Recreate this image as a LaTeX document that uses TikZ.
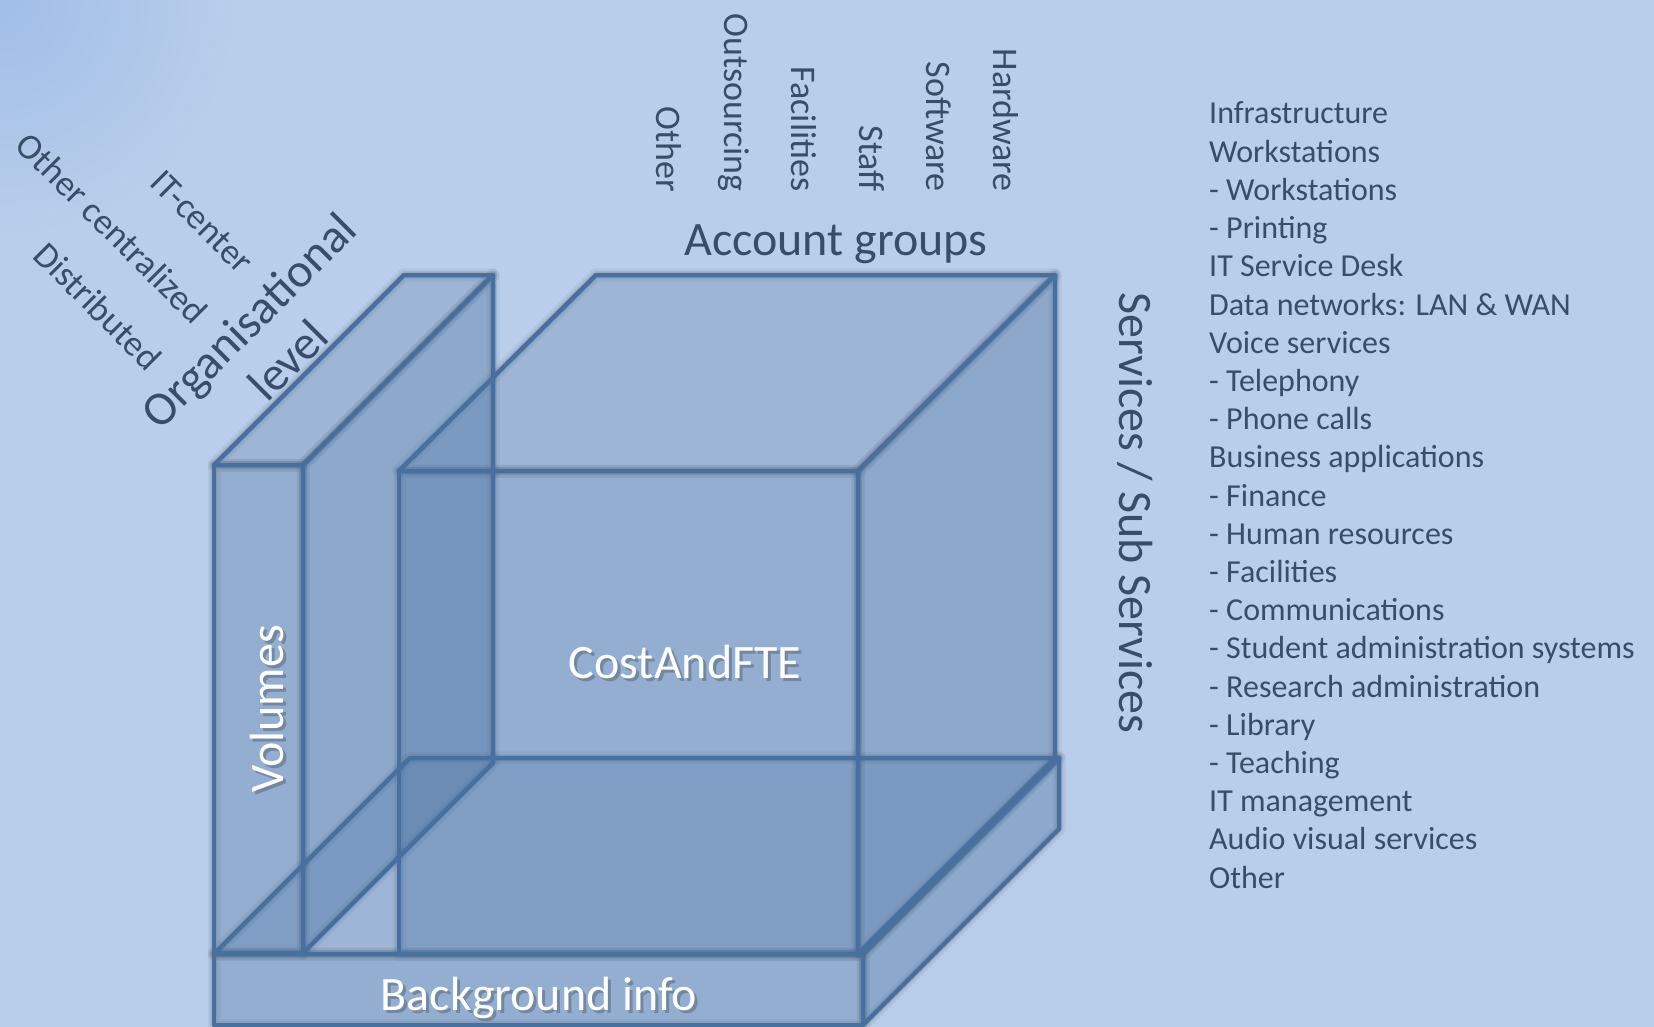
\documentclass[tikz,border=0pt]{standalone}
\usepackage{fontspec}
\setmainfont{Carlito}
\definecolor{bgblue}{RGB}{185,206,234}
\definecolor{edgeblue}{RGB}{72,112,158}
\definecolor{faceblue}{RGB}{74,114,160}
\definecolor{txtdark}{RGB}{56,78,104}
\definecolor{cornerblue}{RGB}{160,190,232}
\tikzset{
  frontface/.style={fill=faceblue, fill opacity=0.34},
  topface/.style={fill=faceblue, fill opacity=0.25},
  sideface/.style={fill=faceblue, fill opacity=0.40},
  edgeline/.style={draw=edgeblue, line width=4.5pt, line join=round},
  shadowwide/.style={draw=black, draw opacity=0.05, line width=13pt, line join=round, xshift=3pt, yshift=-4pt},
  shadownarrow/.style={draw=black, draw opacity=0.07, line width=8pt, line join=round, xshift=3pt, yshift=-4pt},
  bigtxt/.style={font=\fontsize{48}{56}\selectfont},
  midtxt/.style={font=\fontsize{36}{42}\selectfont},
  smalltxt/.style={font=\fontsize{32}{38}\selectfont},
  darktxt/.style={text=txtdark, inner sep=0pt},
  lighttxt/.style={text=white, inner sep=0pt},
  shadowtxt/.style={text=black, text opacity=0.22, inner sep=0pt},
}
\newcommand\allboxedges[1]{%
  \draw[#1] (bFTL) -- (bFTR) -- (bFBR) -- (bFBL) -- cycle;
  \draw[#1] (bFTL) -- (bFTR) -- (bBTR) -- (bBTL) -- cycle;
  \draw[#1] (bFTR) -- (bBTR) -- (bBBR) -- (bFBR) -- cycle;
  \draw[#1] (cFTL) -- (cFTR) -- (cFBR) -- (cFBL) -- cycle;
  \draw[#1] (cFTL) -- (cFTR) -- (cBTR) -- (cBTL) -- cycle;
  \draw[#1] (cFTR) -- (cBTR) -- (cBBR) -- (cFBR) -- cycle;
  \draw[#1] (lsFTL) -- (lsFTR) -- (lsFBR) -- (lsFBL) -- cycle;
  \draw[#1] (lsFTL) -- (lsFTR) -- (lsBTR) -- (lsBTL) -- cycle;
  \draw[#1] (lsFTR) -- (lsBTR) -- (lsBBR) -- (lsFBR) -- cycle;
}
\begin{document}
\begin{tikzpicture}[x=1pt,y=-1pt]
\useasboundingbox (0,0) rectangle (1654,1027);
\clip (0,0) rectangle (1654,1027);
\fill[bgblue] (0,0) rectangle (1654,1027);
\shade[inner color=cornerblue, outer color=bgblue] (0,0) circle (240);

% left slab
\coordinate (lsFTL) at (214,465);
\coordinate (lsFTR) at (303,465);
\coordinate (lsFBR) at (303,953);
\coordinate (lsFBL) at (214,953);
\coordinate (lsBTL) at (404,275);
\coordinate (lsBTR) at (493,275);
\coordinate (lsBBR) at (493,763);
% cube
\coordinate (cFTL) at (399,471);
\coordinate (cFTR) at (858,471);
\coordinate (cFBR) at (858,954);
\coordinate (cFBL) at (399,954);
\coordinate (cBTL) at (596,275);
\coordinate (cBTR) at (1055,275);
\coordinate (cBBR) at (1055,758);
% background slab
\coordinate (bFTL) at (214,954);
\coordinate (bFTR) at (863,954);
\coordinate (bFBR) at (863,1025);
\coordinate (bFBL) at (214,1025);
\coordinate (bBTL) at (410,758);
\coordinate (bBTR) at (1059,758);
\coordinate (bBBR) at (1059,829);

% soft shadows
\allboxedges{shadowwide}
\allboxedges{shadownarrow}

% fills
\fill[frontface] (bFTL) -- (bFTR) -- (bFBR) -- (bFBL) -- cycle;
\fill[topface] (bFTL) -- (bFTR) -- (bBTR) -- (bBTL) -- cycle;
\fill[sideface] (bFTR) -- (bBTR) -- (bBBR) -- (bFBR) -- cycle;

\fill[frontface] (cFTL) -- (cFTR) -- (cFBR) -- (cFBL) -- cycle;
\fill[topface] (cFTL) -- (cFTR) -- (cBTR) -- (cBTL) -- cycle;
\fill[sideface] (cFTR) -- (cBTR) -- (cBBR) -- (cFBR) -- cycle;

\fill[frontface] (lsFTL) -- (lsFTR) -- (lsFBR) -- (lsFBL) -- cycle;
\fill[topface] (lsFTL) -- (lsFTR) -- (lsBTR) -- (lsBTL) -- cycle;
\fill[sideface] (lsFTR) -- (lsBTR) -- (lsBBR) -- (lsFBR) -- cycle;

% edges
\allboxedges{edgeline}

% white labels with soft shadow
\node[bigtxt, shadowtxt, rotate=90, anchor=base] (volsh) at (286,712) {Volumes};
\node[bigtxt, lighttxt, rotate=90, anchor=base] (vol) at (283,709) {Volumes};
\node[bigtxt, shadowtxt, anchor=base] (costsh) at (688,681) {CostAndFTE};
\node[bigtxt, lighttxt, anchor=base] (cost) at (685,678) {CostAndFTE};
\node[bigtxt, shadowtxt, anchor=base] (bgish) at (542,1013) {Background info};
\node[bigtxt, lighttxt, anchor=base] (bgi) at (539,1010) {Background info};

% axis titles
\node[bigtxt, darktxt, anchor=base] (acc) at (836,255) {Account groups};
\node[bigtxt, darktxt, anchor=base, rotate=-90] (serv) at (1119,513) {Services / Sub Services};
\node[bigtxt, darktxt, rotate=45, align=center] (org) at (268,340) {Organisational\\level};

% organisational levels
\node[midtxt, darktxt, rotate=-45] (itc) at (202,222) {IT-center};
\node[midtxt, darktxt, rotate=-45] (oce) at (112,228) {Other centralized};
\node[midtxt, darktxt, rotate=-45] (dis) at (98,306) {Distributed};

% account groups
\foreach \t/\x [count=\i] in {Other/656, Outsourcing/724, Facilities/791, Staff/859, Software/926, Hardware/993}
  \node[midtxt, darktxt, rotate=-90, anchor=base east] (ag\i) at (\x,192) {\t};

% services list
\foreach \t [count=\i] in {Infrastructure, Workstations, - Workstations, - Printing, IT Service Desk, Data networks: LAN \& WAN, Voice services, - Telephony, - Phone calls, Business applications, - Finance, - Human resources, - Facilities, - Communications, - Student administration systems, - Research administration, - Library, - Teaching, IT management, Audio visual services, Other}
  \node[smalltxt, darktxt, anchor=base west] (svc\i) at (1209,{124+38.2*(\i-1)}) {\t};
\end{tikzpicture}
\end{document}
